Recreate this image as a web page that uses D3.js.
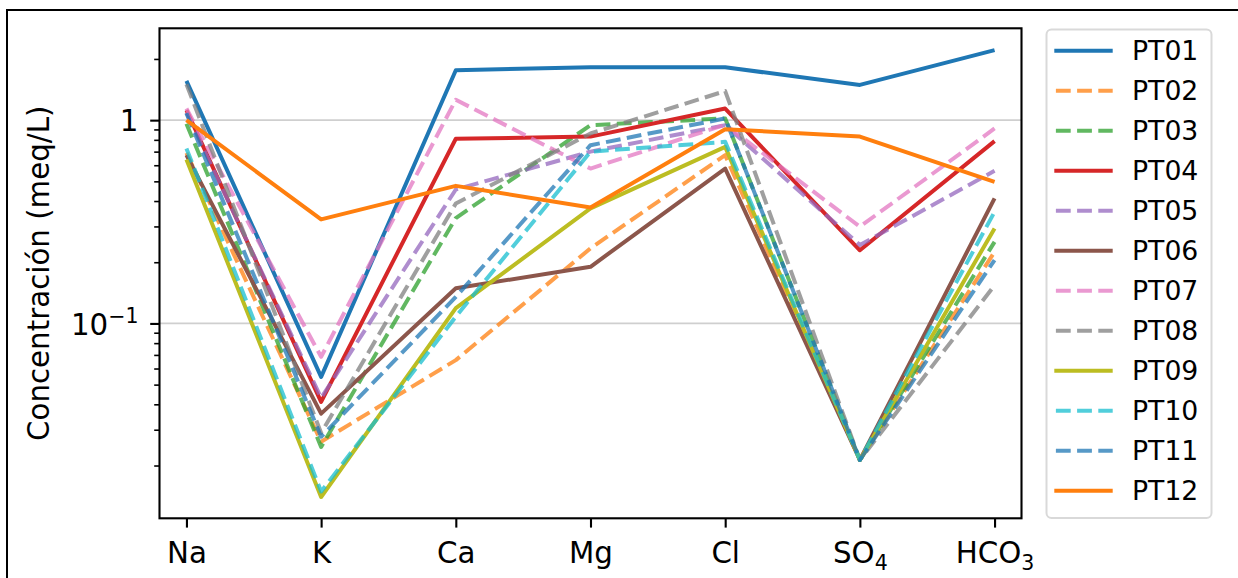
<!DOCTYPE html>
<html>
<head>
<meta charset="utf-8">
<script src="https://cdn.jsdelivr.net/npm/d3@7"></script>
<style>
	body { margin: 0; background: #fff; }
	svg { display: block; font-family: "DejaVu Sans", sans-serif; }
	svg text { font-family: "DejaVu Sans", sans-serif; }
</style>
</head>
<body>
<svg id="chart" width="1238" height="578"></svg>
<script>
var categories = ["Na", "K", "Ca", "Mg", "Cl", "SO4", "HCO3"];
var seriesNames = ["PT01", "PT02", "PT03", "PT04", "PT05", "PT06",
	"PT07", "PT08", "PT09", "PT10", "PT11", "PT12"];

var pt01 = [1.56, 0.0546, 1.76, 1.82, 1.82, 1.49, 2.21];
var pt02 = [0.69, 0.0262, 0.066, 0.234, 0.673, 0.0213, 0.225];
var pt03 = [0.96, 0.0247, 0.33, 0.945, 1.02, 0.0213, 0.252];
var pt04 = [1.12, 0.0411, 0.81, 0.83, 1.14, 0.229, 0.788];
var pt05 = [1.09, 0.043, 0.456, 0.70, 0.945, 0.243, 0.563];
var pt06 = [0.673, 0.036, 0.149, 0.19, 0.578, 0.0213, 0.412];
var pt07 = [1.14, 0.0685, 1.26, 0.578, 0.95, 0.299, 0.91];
var pt08 = [1.5, 0.0289, 0.389, 0.86, 1.39, 0.0213, 0.154];
var pt09 = [0.64, 0.0140, 0.119, 0.368, 0.739, 0.0213, 0.293];
var pt10 = [0.725, 0.0149, 0.108, 0.70, 0.782, 0.0213, 0.354];
var pt11 = [1.08, 0.0277, 0.135, 0.753, 1.02, 0.0213, 0.205];
var pt12 = [1.0, 0.325, 0.475, 0.372, 0.903, 0.83, 0.497];

var seriesValues = [pt01, pt02, pt03, pt04, pt05, pt06, pt07, pt08, pt09, pt10, pt11, pt12];
var majorTicks = [0.1, 1];
var minorTicks = [0.02, 0.03, 0.04, 0.05, 0.06, 0.07, 0.08, 0.09,
	0.2, 0.3, 0.4, 0.5, 0.6, 0.7, 0.8, 0.9, 2];

// tab10 cycle, dashed ones drawn a bit transparent
var colors = ["#1f77b4", "#ff7f0e", "#2ca02c", "#d62728", "#9467bd", "#8c564b",
	"#e377c2", "#7f7f7f", "#bcbd22", "#17becf", "#1f77b4", "#ff7f0e"];
var dashed = [false, true, true, false, true, false, true, true, false, true, true, false];

var axisFont = 29.3;
var legendFont = 26.7;
var svg = d3.select("#chart");

// figure border (cut at right and bottom)
svg.append("path")
	.attr("d", "M7,600 L7,10 L1260,10")
	.attr("fill", "none")
	.attr("stroke", "#000")
	.attr("stroke-width", 2);

var plotLeft = 159.5, plotRight = 1021.5, plotTop = 28.3, plotBottom = 518.3;

var xScale = d3.scalePoint()
	.domain(categories)
	.range([plotLeft, plotRight])
	.padding(0.2);

var yScale = d3.scaleLog()
	.domain([0.011, 2.83])
	.range([plotBottom, plotTop]);

// grid
svg.append("g").selectAll("line")
	.data(majorTicks)
	.join("line")
	.attr("x1", plotLeft)
	.attr("x2", plotRight)
	.attr("y1", d => yScale(d))
	.attr("y2", d => yScale(d))
	.attr("stroke", "#cfcfcf")
	.attr("stroke-width", 1.8);

// series
var line = d3.line()
	.x((d, i) => xScale(categories[i]))
	.y(d => yScale(d));

for (var i = 0; i < seriesValues.length; i++) {
	svg.append("path")
		.attr("d", line(seriesValues[i]))
		.attr("fill", "none")
		.attr("stroke", colors[i])
		.attr("stroke-width", 4)
		.attr("stroke-linejoin", "round")
		.attr("stroke-opacity", dashed[i] ? 0.75 : 1)
		.attr("stroke-dasharray", dashed[i] ? "14.8,6.4" : null);
}

// frame
svg.append("rect")
	.attr("x", plotLeft)
	.attr("y", plotTop)
	.attr("width", plotRight - plotLeft)
	.attr("height", plotBottom - plotTop)
	.attr("fill", "none")
	.attr("stroke", "#000")
	.attr("stroke-width", 2.1);

// x axis
var xAxis = svg.append("g")
	.attr("transform", "translate(0," + plotBottom + ")")
	.call(d3.axisBottom(xScale).tickSize(9.3).tickPadding(9.3).tickFormat(""));
xAxis.attr("font-family", null).attr("font-size", null);
xAxis.select(".domain").remove();
xAxis.selectAll(".tick line").attr("stroke-width", 2.1);
xAxis.selectAll(".tick text").remove();
xAxis.selectAll(".tick").each(function(d) {
	var m = d.match(/^([A-Za-z]+)(\d*)$/);
	var t = d3.select(this).append("text")
		.attr("y", 45)
		.attr("fill", "#000")
		.attr("text-anchor", "middle")
		.style("font-size", axisFont + "px");
	t.append("tspan").text(m[1]);
	if (m[2]) {
		t.append("tspan")
			.attr("dy", 7)
			.style("font-size", (axisFont * 0.7) + "px")
			.text(m[2]);
	}
});

// y axis, major
var yAxis = svg.append("g")
	.attr("transform", "translate(" + plotLeft + ",0)")
	.call(d3.axisLeft(yScale).tickValues(majorTicks).tickSize(9.3).tickPadding(9.3).tickFormat(""));
yAxis.attr("font-family", null).attr("font-size", null);
yAxis.select(".domain").remove();
yAxis.selectAll(".tick line").attr("stroke-width", 2.1);
yAxis.selectAll(".tick text").remove();
yAxis.selectAll(".tick").each(function(d) {
	var t = d3.select(this).append("text")
		.attr("x", -21)
		.attr("y", 10.7)
		.attr("fill", "#000")
		.attr("text-anchor", "end")
		.style("font-size", axisFont + "px");
	if (d === 1) {
		t.text("1");
	} else {
		t.append("tspan").text("10");
		t.append("tspan")
			.attr("dy", -12)
			.style("font-size", (axisFont * 0.7) + "px")
			.text("\u22121");
	}
});

// y axis, minor
var yMinor = svg.append("g")
	.attr("transform", "translate(" + plotLeft + ",0)")
	.call(d3.axisLeft(yScale).tickValues(minorTicks).tickSize(5.3).tickFormat(""));
yMinor.select(".domain").remove();
yMinor.selectAll(".tick line").attr("stroke-width", 1.6);

svg.append("text")
	.attr("transform", "translate(49," + ((plotTop + plotBottom) / 2) + ") rotate(-90)")
	.attr("text-anchor", "middle")
	.style("font-size", axisFont + "px")
	.text("Concentración (meq/L)");

// legend
var legend = svg.append("g");
legend.append("rect")
	.attr("x", 1046.5)
	.attr("y", 29.5)
	.attr("width", 165)
	.attr("height", 488.5)
	.attr("rx", 5)
	.attr("fill", "#fff")
	.attr("fill-opacity", 0.8)
	.attr("stroke", "#d9d9d9")
	.attr("stroke-width", 2);

for (var j = 0; j < seriesNames.length; j++) {
	var ly = 50.7 + j * 40;
	legend.append("line")
		.attr("x1", 1054.3)
		.attr("x2", 1112.7)
		.attr("y1", ly)
		.attr("y2", ly)
		.attr("stroke", colors[j])
		.attr("stroke-width", 4)
		.attr("stroke-opacity", dashed[j] ? 0.75 : 1)
		.attr("stroke-dasharray", dashed[j] ? "14.8,6.4" : null)
		.attr("stroke-dashoffset", dashed[j] ? -1.6 : null);
	legend.append("text")
		.attr("x", 1132)
		.attr("y", ly + 9.7)
		.style("font-size", legendFont + "px")
		.text(seriesNames[j]);
}
</script>
</body>
</html>
